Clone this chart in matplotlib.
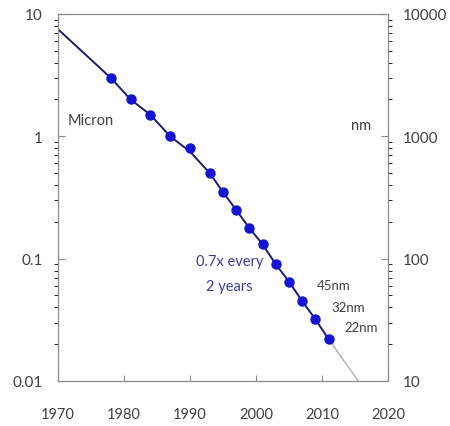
import matplotlib
matplotlib.use("Agg")
import matplotlib.pyplot as plt

# feature size history (micron)
years = [1978, 1981, 1984, 1987, 1990, 1993, 1995, 1997, 1999, 2001, 2003, 2005, 2007, 2009, 2011]
sizes = [3.0, 2.0, 1.5, 1.0, 0.8, 0.5, 0.35, 0.25, 0.178, 0.131, 0.09, 0.065, 0.045, 0.032, 0.022]

# fitted trend line and its projection
fit_years = [1970, 1978, 1981, 1984, 1987, 1990, 1993, 1995, 1997, 1999, 2001, 2003, 2005, 2007, 2009, 2011]
fit_sizes = [7.5, 3.0, 2.0, 1.5, 1.0, 0.75, 0.5, 0.35, 0.25, 0.178, 0.131, 0.09, 0.065, 0.045, 0.032, 0.022]
proj_years = [2011, 2015.5]
proj_sizes = [0.022, 0.01]

node_labels = ["45nm", "32nm", "22nm"]
node_pos = [(2009.3, 0.061), (2011.4, 0.040), (2013.4, 0.0275)]

plt.rcParams["font.family"] = ["Lato", "DejaVu Sans"]
grey = "#8a8a8a"
txt = "#404040"

fig = plt.figure(figsize=(4.5, 4.27), dpi=100)
ax = fig.add_axes([0.129, 0.1054, 0.733, 0.8595])

ax.plot(proj_years, proj_sizes, color="#a0a0a0", lw=0.8, zorder=1)
ax.plot(fit_years, fit_sizes, color="#1c1c6a", lw=1.4, zorder=2)
ax.plot(years, sizes, "o", color="#1414d2", ms=6.5, zorder=3)

ax.set_yscale("log")
ax.set_xlim(1970, 2020)
ax.set_ylim(0.01, 10)
ax.set_xticks([1970, 1980, 1990, 2000, 2010, 2020])
ax.set_yticks([0.01, 0.1, 1, 10])
ax.set_yticklabels(["0.01", "0.1", "1", "10"])
ax.tick_params(axis="both", direction="in", colors=grey, labelcolor=txt, labelsize=11)
ax.tick_params(axis="x", pad=19, length=4, labelsize=10.5)
ax.tick_params(axis="y", which="major", length=5, pad=11)
ax.tick_params(axis="y", which="minor", length=3)
for s in ax.spines.values():
    s.set_color(grey)

ax2 = ax.twinx()
ax2.set_yscale("log")
ax2.set_ylim(10, 10000)
ax2.set_yticks([10, 100, 1000, 10000])
ax2.set_yticklabels(["10", "100", "1000", "10000"])
ax2.tick_params(axis="y", direction="in", colors=grey, labelcolor=txt, labelsize=11, pad=11)
ax2.tick_params(axis="y", which="major", length=5)
ax2.tick_params(axis="y", which="minor", length=3)
for s in ax2.spines.values():
    s.set_color(grey)

ax.text(1971.5, 1.36, "Micron", fontsize=10.5, color=txt, va="center")
ax.text(2017.5, 1.23, "nm", fontsize=10.5, color=txt, ha="right", va="center")
ax.text(1996.0, 0.075, "0.7x every\n2 years", fontsize=10.5, color="#3c3ca0",
        ha="center", va="center", linespacing=2.0)
for lab, (x, y) in zip(node_labels, node_pos):
    ax.text(x, y, lab, fontsize=9.5, color=txt, va="center", ha="left")

fig.savefig("out.png", dpi=100)
